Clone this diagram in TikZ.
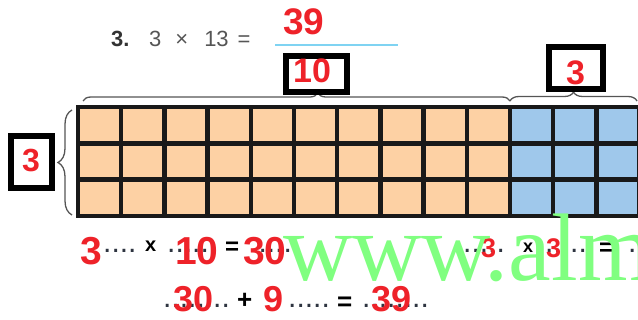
\documentclass[tikz,border=0pt]{standalone}
\usepackage{fontspec}
\setmainfont{Liberation Sans}
\newfontfamily\markfont{Liberation Serif}
\usetikzlibrary{decorations.pathreplacing}
\definecolor{ansred}{HTML}{EE2229}
\definecolor{tenpeach}{HTML}{FDD1A4}
\definecolor{onesblue}{HTML}{9FC8EB}
\definecolor{markgreen}{HTML}{80FF80}
\definecolor{lineblue}{HTML}{7FD3F2}
\definecolor{bracegray}{HTML}{555555}
\definecolor{textgray}{HTML}{555555}
\definecolor{dotgray}{HTML}{2E3440}

\begin{document}
\begin{tikzpicture}[
    x=1pt, y=-1pt,
    ans/.style={text=ansred, font=\bfseries\fontsize{#1}{#1}\selectfont, inner sep=0pt, anchor=base west},
    op/.style={text=black, font=\bfseries\fontsize{#1}{#1}\selectfont, inner sep=0pt, anchor=base west},
    blanks/.style={text=dotgray, font=\fontsize{30}{30}\selectfont, inner sep=0pt, anchor=base west},
    box/.style={draw=black, line width=6pt, inner sep=0pt},
    gridline/.style={line width=4.5pt, draw=black!90, line cap=rect},
    brc/.style={decorate, draw=bracegray, line width=1.3pt},
]
\useasboundingbox (0,0) rectangle (638,320);

% Question
\node[text=black!80, font=\bfseries\fontsize{22}{22}\selectfont, inner sep=0pt, anchor=base west] (qnum) at (111,47) {3.};
\node[text=textgray, font=\fontsize{22}{22}\selectfont, inner sep=0pt, anchor=base west] (qtext) at (149,47) {3\hspace{14pt}×\hspace{16pt}13\hspace{9pt}=};
\coordinate (blank-l) at (275,45);
\coordinate (blank-r) at (398,45);
\draw[lineblue, line width=1.5pt] (blank-l) -- (blank-r);
\node[ans=37] (result) at (283,35) {39};

% Grid of 3 rows x 13 columns
\foreach \c in {0,...,9} {
  \foreach \r in {0,1,2} {
    \fill[tenpeach] ({78+43.2*\c},{107+36.3*\r}) rectangle ++(43.2,36.3);
  }
}
\foreach \c in {10,11,12} {
  \foreach \r in {0,1,2} {
    \fill[onesblue] ({78+43.2*\c},{107+36.3*\r}) rectangle ++(43.2,36.3);
  }
}
\foreach \i in {0,...,13} {
  \draw[gridline] ({78+43.2*\i},107) -- ({78+43.2*\i},216);
}
\foreach \j in {0,...,3} {
  \draw[gridline] (78,{107+36.3*\j}) -- (640,{107+36.3*\j});
}

% Braces
\coordinate (tens-l) at (83,101);
\coordinate (tens-r) at (510,101);
\coordinate (ones-l) at (510,101);
\coordinate (ones-r) at (637,101);
\coordinate (rows-b) at (72,215);
\coordinate (rows-t) at (72,110);
\draw[brc, decoration={brace, amplitude=8pt, aspect=0.55}] (tens-l) -- (tens-r);
\draw[brc, decoration={brace, amplitude=9pt}] (ones-l) -- (ones-r);
\draw[brc, decoration={brace, amplitude=14pt}] (rows-b) -- (rows-t);

% Boxed factors
\node[box, minimum width=61pt, minimum height=36pt] (tens-box) at (316.5,74) {};
\node[ans=34] (tens) at (293,83) {10};
\node[box, minimum width=54pt, minimum height=42pt] (ones-box) at (576,68) {};
\node[ans=34] (ones) at (566,85) {3};
\node[box, minimum width=41pt, minimum height=52pt] (rows-box) at (31.5,162) {};
\node[ans=32] (rows) at (22,172) {3};

% First line: partial products
\node[blanks] (b1) at (103,253) {....};
\node[blanks] (b2) at (167,253) {.....};
\node[blanks] (b3) at (250,253) {.....};
\node[ans=39] (f1) at (80,265) {3};
\node[op=20] (x1) at (145,252) {x};
\node[ans=39] (f2) at (175,265) {10};
\node[op=24] (eq1) at (225,255) {=};
\node[ans=39] (p1) at (243,265) {30};
\node[blanks] (b4) at (463,253) {.....};
\node[blanks] (b5) at (545,253) {.....};
\node[blanks] (b6) at (628,253) {...};
\node[ans=27] (f3) at (481,258) {3};
\node[op=18] (x2) at (523,253) {x};
\node[ans=27] (f4) at (546,258) {3};
\node[op=24] (eq2) at (599,256) {=};

% Second line: sum
\node[blanks] (b7) at (163,308) {........};
\node[blanks] (b8) at (288,308) {.....};
\node[blanks] (b9) at (362,308) {........};
\node[ans=36] (s1) at (173,312) {30};
\node[op=26] (plus) at (237,309) {+};
\node[ans=36] (s2) at (263,312) {9};
\node[op=26] (eq3) at (337,311) {=};
\node[ans=36] (s3) at (371,312) {39};

% Watermark
\node[text=markgreen, font=\markfont\fontsize{96}{96}\selectfont, inner sep=0pt, anchor=base west] (mark) at (283,281) {www.alm};

\end{tikzpicture}
\end{document}
